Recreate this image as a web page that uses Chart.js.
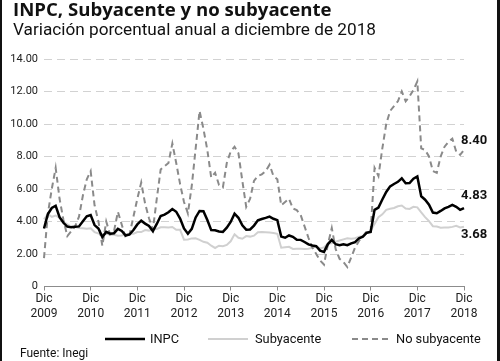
<!DOCTYPE html>
<html><head><meta charset="utf-8">
<script src="https://cdn.jsdelivr.net/npm/chart.js@4.4.1/dist/chart.umd.min.js"></script>
<style>
html,body{margin:0;padding:0;background:#fff;}
#wrap{position:relative;width:500px;height:361px;overflow:hidden;font-family:Roboto,"Noto Sans",sans-serif;color:#111;background:#fff;}
#frameL{position:absolute;left:0;top:0;width:2px;height:361px;background:#111;}
#frameR{position:absolute;left:497px;top:0;width:3px;height:361px;background:#111;}
#title{position:absolute;left:13px;top:-2px;font-family:"Open Sans",Roboto,sans-serif;font-weight:700;font-size:18.6px;white-space:nowrap;line-height:22px;}
#subtitle{position:absolute;left:13px;top:19px;font-size:17.2px;white-space:nowrap;}
canvas{position:absolute;left:0;top:0;}
.lg{position:absolute;top:331px;font-size:12.8px;white-space:nowrap;line-height:16px;}
.lgs{position:absolute;top:331px;}
#source{position:absolute;left:20px;top:345px;font-size:12px;line-height:16px;white-space:nowrap;}
</style></head>
<body>
<div id="wrap">
  <canvas id="c" width="500" height="361"></canvas>
  <div id="title">INPC, Subyacente y no subyacente</div>
  <div id="subtitle">Variación porcentual anual a diciembre de 2018</div>
  <svg class="lgs" style="left:105px" width="40" height="16"><line x1="0" y1="8" x2="40" y2="8" stroke="#000" stroke-width="2.5"/></svg>
  <div class="lg" style="left:150px">INPC</div>
  <svg class="lgs" style="left:208px" width="40" height="16"><line x1="0" y1="8" x2="40" y2="8" stroke="#d0d0d0" stroke-width="2"/></svg>
  <div class="lg" style="left:255px">Subyacente</div>
  <svg class="lgs" style="left:352px" width="37" height="16"><line x1="0" y1="8" x2="37" y2="8" stroke="#8a8a8a" stroke-width="2" stroke-dasharray="6,4"/></svg>
  <div class="lg" style="left:396px">No subyacente</div>
  <div id="source">Fuente: Inegi</div>
  <div id="frameL"></div><div id="frameR"></div>
</div>
<script>
// Categories: monthly, Dec 2009 .. Dec 2018
const monthNames = ['Ene','Feb','Mar','Abr','May','Jun','Jul','Ago','Sep','Oct','Nov','Dic'];
const months = ['Dic 2009'];
for (let y = 2010; y <= 2018; y++) { for (let m = 0; m < 12; m++) months.push(monthNames[m] + ' ' + y); }

const inpc = [3.57,
4.46,4.83,4.97,4.27,3.92,3.69,3.64,3.68,3.70,4.02,4.32,4.40,
3.78,3.57,3.04,3.36,3.25,3.28,3.55,3.42,3.14,3.20,3.48,3.82,
4.05,3.87,3.73,3.41,3.85,4.34,4.42,4.57,4.77,4.60,4.18,3.57,
3.25,3.55,4.25,4.65,4.63,4.09,3.47,3.46,3.39,3.36,3.62,3.97,
4.48,4.23,3.76,3.50,3.51,3.75,4.07,4.15,4.22,4.30,4.17,4.08,
3.07,3.00,3.14,3.06,2.88,2.87,2.74,2.59,2.52,2.48,2.21,2.13,
2.61,2.87,2.60,2.54,2.60,2.54,2.65,2.73,2.97,3.06,3.31,3.36,
4.72,4.86,5.35,5.82,6.16,6.31,6.44,6.66,6.35,6.37,6.63,6.77,
5.55,5.34,5.04,4.55,4.51,4.65,4.81,4.90,5.02,4.90,4.72,4.83];

const subyacente = [4.13,
4.46,4.29,4.37,4.22,3.98,3.83,3.69,3.66,3.60,3.59,3.56,3.58,
3.35,3.26,3.21,3.24,3.19,3.18,3.12,3.14,3.22,3.24,3.25,3.35,
3.35,3.47,3.44,3.54,3.54,3.64,3.65,3.63,3.66,3.49,3.49,2.88,
2.89,2.96,2.97,2.87,2.75,2.69,2.51,2.37,2.51,2.48,2.56,2.78,
3.21,3.00,2.94,3.10,3.07,3.13,3.34,3.35,3.34,3.32,3.29,3.24,
2.39,2.42,2.44,2.31,2.33,2.33,2.31,2.33,2.38,2.47,2.34,2.41,
2.64,2.66,2.75,2.83,2.90,2.97,2.94,2.97,3.07,3.10,3.29,3.44,
3.84,4.26,4.44,4.72,4.78,4.83,4.94,4.98,4.80,4.77,4.90,4.87,
4.56,4.27,4.02,3.71,3.69,3.62,3.63,3.63,3.67,3.73,3.63,3.68];

const noSubyacente = [1.75,
4.5,6.0,7.3,5.4,4.1,3.1,3.4,3.7,4.3,5.6,6.6,7.1,
5.0,4.0,2.5,4.0,3.2,3.4,4.6,3.8,3.0,3.2,4.3,5.4,
6.4,5.1,4.2,3.5,5.4,7.2,7.4,7.6,8.8,7.6,6.3,5.2,
4.5,6.2,8.5,10.8,9.7,8.4,6.7,7.0,6.25,6.1,7.6,8.3,
8.6,8.2,6.5,4.9,5.4,6.5,6.8,6.9,7.1,7.5,6.8,6.6,
5.0,5.2,5.4,4.8,4.7,4.4,3.7,3.0,2.4,2.0,1.6,1.35,
2.6,3.6,2.3,1.7,1.5,1.2,1.8,2.4,2.8,3.1,3.4,3.4,
7.3,6.8,8.5,10.0,10.8,11.1,11.4,12.0,11.4,11.7,12.1,12.62,
8.5,8.4,8.0,7.1,7.0,8.0,8.6,8.9,9.1,8.3,8.1,8.40];

const yTicks = {min: 0, max: 14, step: 2};

const endLabels = {
  id: 'endLabels',
  afterDatasetsDraw(chart) {
    const ctx = chart.ctx;
    ctx.save();
    ctx.font = '700 13px Roboto, sans-serif';
    ctx.fillStyle = '#111';
    ctx.textAlign = 'left';
    ctx.textBaseline = 'middle';
    chart.data.datasets.forEach((ds, i) => {
      const meta = chart.getDatasetMeta(i);
      const pt = meta.data[meta.data.length - 1];
      const v = ds.data[ds.data.length - 1];
      ctx.fillText(v.toFixed(2), pt.x - 3, pt.y + ds.endLabelDy);
    });
    ctx.restore();
  }
};

new Chart(document.getElementById('c'), {
  type: 'line',
  data: {
    labels: months,
    datasets: [
      {label: 'INPC', data: inpc, borderColor: '#000', borderWidth: 2.5, pointRadius: 0, tension: 0, order: 0, endLabelDy: -12},
      {label: 'No subyacente', data: noSubyacente, borderColor: '#8a8a8a', borderWidth: 2, borderDash: [6, 4], pointRadius: 0, tension: 0, order: 1, endLabelDy: -9},
      {label: 'Subyacente', data: subyacente, borderColor: '#d0d0d0', borderWidth: 2, pointRadius: 0, tension: 0, order: 2, endLabelDy: 8}
    ]
  },
  plugins: [endLabels],
  options: {
    responsive: false,
    animation: false,
    devicePixelRatio: 1,
    layout: {padding: {left: 0, right: 36, top: 59, bottom: 0}},
    plugins: {legend: {display: false}, tooltip: {enabled: false}},
    scales: {
      x: {
        type: 'category',
        offset: false,
        grid: {display: true, drawOnChartArea: false, drawTicks: true, tickLength: 4, color: '#8c8c8c', lineWidth: 1},
        border: {display: true, color: '#8c8c8c', width: 1},
        ticks: {
          autoSkip: false, maxRotation: 0, minRotation: 0, padding: 1, color: '#222',
          font: {family: 'Roboto', size: 12, lineHeight: 1.25},
          callback: function(v, i) { if (i % 12 !== 0) return null; const p = months[i].split(' '); return [p[0], p[1]]; }
        },
        afterFit: s => { s.height = 74.5; }
      },
      y: {
        min: yTicks.min, max: yTicks.max,
        ticks: {stepSize: yTicks.step, padding: 6, color: '#222', font: {family: 'Roboto', size: 11},
          callback: v => v === 0 ? '0' : v.toFixed(2)},
        grid: {color: '#d2d2d2', drawTicks: false, lineWidth: 1},
        border: {display: false, dash: [8, 5]},
        afterFit: s => { s.width = 44; }
      }
    }
  }
});
</script>
</body></html>
